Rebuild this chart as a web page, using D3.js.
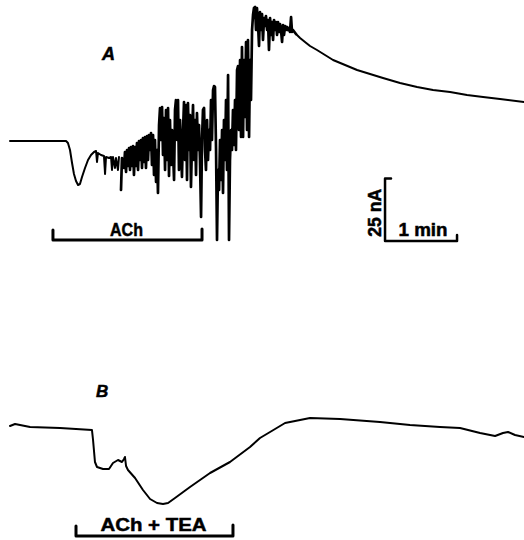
<!DOCTYPE html>
<html>
<head>
<meta charset="utf-8">
<script src="https://cdn.jsdelivr.net/npm/d3@7"></script>
<style>
  html, body { margin: 0; padding: 0; background: #fff; }
  svg { display: block; }
  text { font-family: "Liberation Sans", Arial, sans-serif; font-weight: bold; fill: #000;
         stroke: #000; stroke-width: 0.5px; }
</style>
</head>
<body>
<svg id="fig" width="524" height="540"></svg>
<script>
// ---- Membrane current records: [time (s), current (nA)] ----
// A: ACh alone — onset, oscillatory burst, slow outward decay
const onsetA = [
  [0, 0], [46.7, 0], [48.3, -0.8], [50, -3.6], [51.7, -8.8], [53.3, -13.2], [55, -16],
  [56.7, -17.6], [58.3, -17.2], [60, -14.4], [62.5, -10.8], [65, -7.6], [67.5, -5.6],
  [70, -4.4], [71.7, -4], [72.5, -8.4], [73.3, -4.8], [75.8, -5.6], [78.3, -6],
  [79.2, -13.2], [80, -6.4], [82.5, -6.8], [84.2, -6.4], [85, -11.6], [85.8, -6.4],
  [87.5, -10.8], [88.3, -6.8], [90, -11.6], [90.8, -6.4]
];
const burstA = [
  [92.5, -19.6], [93.3, -6.8], [95, -10.8], [95.8, -4.4], [96.7, -12.4], [97.5, -3.6],
  [98.3, -10], [99.2, -2.8], [100, -11.6], [100.8, -2.4], [101.7, -10], [102.5, -2],
  [103.3, -13.6], [104.2, -2.4], [105, -10], [105.8, -0.8], [106.7, -11.6], [107.5, 0],
  [108.3, -7.6], [109.2, 0.4], [110, -10.8], [110.8, 1.2], [111.7, -8.4], [112.5, 1.6],
  [113.3, -10.8], [114.2, 2], [115, -7.6], [115.8, 2.4], [116.7, -3.6], [117.5, 3.2],
  [118.3, -9.6], [119.2, 2.4], [120, -13.6], [120.8, 0.4], [121.7, -16.4], [122.5, -3.6],
  [123.3, -20.8], [124.2, 6.4], [125, 13.2], [125.8, 0.4], [126.7, 13.6], [127.5, -5.6],
  [128.3, 9.2], [129.2, -11.6], [130, 12.4], [130.8, -7.6], [131.7, 13.2], [132.5, -14],
  [133.3, 8.4], [134.2, -9.6], [135, 4.4], [135.8, -3.6], [136.7, -15.6], [137.5, 12.4],
  [138.3, 16.4], [139.2, 0.4], [140, 16.4], [140.8, -11.6], [141.7, 8.4], [142.5, -3.6],
  [143.3, -14.4], [144.2, 4.4], [145, 15.6], [145.8, -7.6], [146.7, 14.4], [147.5, -15.6],
  [148.3, 15.2], [149.2, -3.6], [150, 10.4], [150.8, -18.4], [151.7, 0.4], [152.5, 14.4],
  [153.3, -7.6], [154.2, 8.4], [155, -13.6], [155.8, 11.2], [156.7, -3.6], [157.5, 6.4],
  [158.3, -7.6], [159.2, -30.4], [160, 0.4], [160.8, 12.4], [161.7, 13.2], [162.5, -3.6],
  [163.3, -11.6], [164.2, 8.4], [165, -7.6], [165.8, 4.4], [166.7, -3.6], [167.5, 16.4],
  [168.3, 0.4], [169.2, 20.4], [170, 22], [170.8, 21.6], [171.7, -3.6], [172.5, -39.6],
  [173.3, -11.6], [174.2, -19.6], [175, 0.4], [175.8, -15.6], [176.7, 4.4], [177.5, -20.8],
  [178.3, 8.4], [179.2, -7.6], [180, 16.4], [180.8, -11.6], [181.7, 26.4], [182.5, -39.6],
  [183.3, -7.6], [184.2, 4.4], [185, -3.6], [185.8, 12.4], [186.7, -1.6], [187.5, 16.4],
  [188.3, -3.6], [189.2, 28.4], [190, 30], [190.8, 4.4], [191.7, 32.4], [192.5, 1.6],
  [193.3, 37.6], [194.2, 1.6], [195, 32.4], [195.8, 9.6], [196.7, 39.6], [197.5, 4.4],
  [198.3, 40.4], [199.2, 1.6], [200, 32.4], [200.8, 16.4], [201.7, 44.4], [202.5, 50.4],
  [203.3, 53.2], [204.2, 53.6], [205, 44.4], [205.8, 53.2], [206.7, 46.4], [207.5, 38],
  [208.3, 51.6], [209.2, 44.4], [210, 50.8], [210.8, 40.4], [211.7, 49.2], [212.5, 46],
  [213.3, 50], [214.2, 44.4], [215, 48.4], [215.8, 36.4], [216.7, 49.2], [217.5, 42.4],
  [218.3, 47.6], [219.2, 40.4], [220, 48.4], [220.8, 44.4], [221.7, 47.6], [222.5, 42.4],
  [223.3, 47.6], [224.2, 43.6], [225, 46.8], [225.8, 44.4], [226.7, 39.6], [227.5, 46.4],
  [228.3, 42.4], [229.2, 46], [230, 44.4], [230.8, 45.6], [231.7, 44.4], [232.5, 45.2],
  [233.3, 43.6], [234.2, 49.6], [235, 43.6], [235.8, 44.4]
];
const decayA = [
  [238.3, 42.8], [241.7, 41.2], [245.8, 39.6], [250, 38], [255.8, 36.4], [262.5, 34.4],
  [269.2, 32.4], [279.2, 30.4], [289.2, 28.4], [300, 26.8], [310.8, 25.2], [325, 23.2],
  [339.2, 21.6], [352.5, 20.4], [366.7, 19.6], [380.8, 18.4], [394.2, 17.6], [408.3, 16.8],
  [428.3, 15.6]
];
// B: ACh + TEA
const traceB = [
  [0, 1.6], [4.2, 2.4], [16.7, 1.2], [41.7, 0.8], [68.3, 0], [69.2, -4], [70.8, -12.8],
  [72.5, -14.8], [77.5, -15.6], [82.5, -15.6], [85.8, -13.2], [90, -12], [93.3, -12.8],
  [95, -11.6], [95.8, -10.8], [96.7, -14.4], [98.3, -16], [104.2, -19.2], [110.8, -24],
  [116.7, -27.6], [122.5, -29.2], [127.5, -29.6], [131.7, -29.2], [137.5, -27.2],
  [150, -22.8], [166.7, -17.2], [183.3, -12.8], [200, -6.8], [208.3, -3.2], [216.7, -0.8],
  [229.2, 2.8], [241.7, 4], [250, 4.8], [275, 4.4], [308.3, 3.2], [333.3, 2], [358.3, 1.2],
  [375, 0.8], [391.7, -1.2], [404.2, -2.4], [410.8, -1.2], [415, -0.8], [420.8, -2],
  [428.3, -2.8]
];

// Drug application periods [start s, end s] and label text
const applicationA = { span: [35.8, 160], label: "ACh" };
const applicationB = { span: [55, 185.8], label: "ACh + TEA" };
// Calibration: 25 nA, 1 min
const calibration = { nA: 25, seconds: 60, t0: 312.5, i0: -40 };
const panelLabels = ["A", "B"];

// ---- Scales ----
const svg = d3.select("#fig");
svg.append("rect").attr("width", 524).attr("height", 540).attr("fill", "#fff");

const x = d3.scaleLinear().domain([0, 428.3]).range([10, 524]);          // 1.2 px per s
const yA = d3.scaleLinear().domain([0, 25]).range([141, 141 - 62.5]);   // 2.5 px per nA
const yB = d3.scaleLinear().domain([0, 25]).range([430, 430 - 62.5]);

const lineA = d3.line().x(d => x(d[0])).y(d => yA(d[1]));
const lineB = d3.line().x(d => x(d[0])).y(d => yB(d[1]));

const traceStyle = sel => sel
  .attr("fill", "none").attr("stroke", "#000")
  .attr("stroke-linejoin", "round").attr("stroke-linecap", "round");

// Panel A trace: the burst is drawn heavier, as the pen smears fast swings
svg.append("path").datum(onsetA.concat(burstA[0]))
  .attr("d", lineA).call(traceStyle).attr("stroke-width", 2);
svg.append("path").datum(burstA.concat([decayA[0]]))
  .attr("d", lineA).call(traceStyle).attr("stroke-width", 2.7);
svg.append("path").datum(decayA)
  .attr("d", lineA).call(traceStyle).attr("stroke-width", 2);
// Panel B trace
svg.append("path").datum(traceB)
  .attr("d", lineB).call(traceStyle).attr("stroke-width", 2);

// Application brackets
function bracket(app, yScale, level, textY, textLen) {
  const x0 = x(app.span[0]), x1 = x(app.span[1]), yy = yScale(level);
  svg.append("path")
    .attr("d", `M${x0},${yy - 10}V${yy}H${x1}V${yy - 11}`)
    .attr("fill", "none").attr("stroke", "#000").attr("stroke-width", 3)
    .attr("stroke-linejoin", "round").attr("stroke-linecap", "round");
  svg.append("text")
    .attr("x", (x0 + x1) / 2 - 1).attr("y", textY)
    .attr("text-anchor", "middle").attr("font-size", 19)
    .attr("textLength", textLen).attr("lengthAdjust", "spacingAndGlyphs")
    .text(app.label);
}
bracket(applicationA, yA, -39.6, 236, 33);
bracket(applicationB, yB, -42.4, 531, 106);

// Calibration bars
{
  const cx0 = x(calibration.t0), cx1 = x(calibration.t0 + calibration.seconds);
  const cy0 = yA(calibration.i0), cy1 = yA(calibration.i0 + calibration.nA);
  svg.append("path")
    .attr("d", `M${cx0 + 6},${cy1}H${cx0}V${cy0}H${cx1}V${cy0 - 6}`)
    .attr("fill", "none").attr("stroke", "#000").attr("stroke-width", 2.5)
    .attr("stroke-linejoin", "round").attr("stroke-linecap", "round");
  svg.append("text")
    .attr("transform", `translate(${cx0 - 4},${(cy0 + cy1) / 2 + 3}) rotate(-90)`)
    .attr("text-anchor", "middle").attr("font-size", 18)
    .attr("textLength", 48).attr("lengthAdjust", "spacingAndGlyphs")
    .text(`${calibration.nA} nA`);
  svg.append("text")
    .attr("x", (cx0 + cx1) / 2 + 2).attr("y", cy0 - 5)
    .attr("text-anchor", "middle").attr("font-size", 18)
    .attr("textLength", 49).attr("lengthAdjust", "spacingAndGlyphs")
    .text("1 min");
}

// Panel letters
svg.append("text").attr("x", 102).attr("y", 60)
  .attr("font-size", 18).attr("font-style", "italic").text(panelLabels[0]);
svg.append("text").attr("x", 96).attr("y", 397)
  .attr("font-size", 17).attr("font-style", "italic").text(panelLabels[1]);
</script>
</body>
</html>
